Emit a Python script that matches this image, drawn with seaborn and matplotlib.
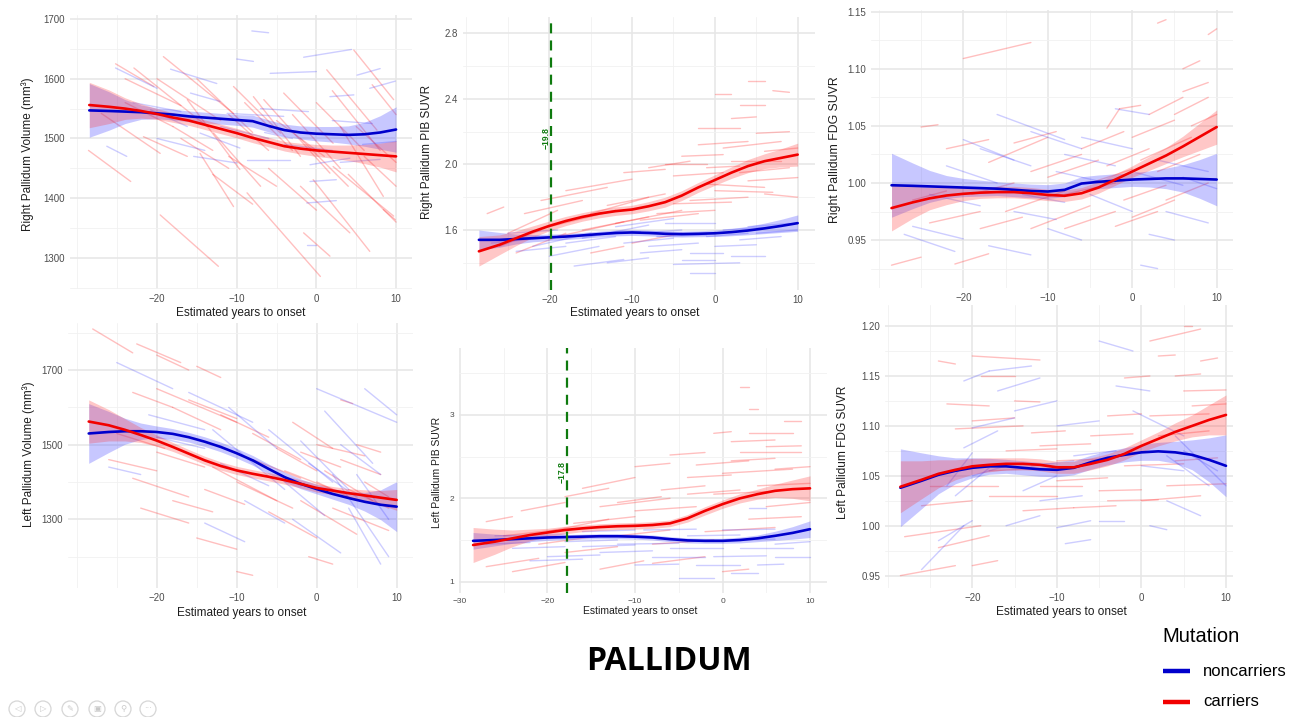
import numpy as np
import pandas as pd
import matplotlib
matplotlib.use("Agg")
import matplotlib.pyplot as plt
from matplotlib.lines import Line2D
from matplotlib.patches import Ellipse
import seaborn as sns

# ---------------------------------------------------------------------------
# Smoothed group trajectories (mean and half-width of the confidence band)
# ---------------------------------------------------------------------------
years = [-28.5, -26, -24, -22, -20, -18, -16, -14, -12, -10,
         -8, -6, -4, -2, 0, 2, 4, 6, 8, 10]

# Right pallidum volume
rv_nc_mean = [1547, 1546, 1545, 1544, 1542, 1540, 1537, 1535, 1533, 1531,
              1529, 1521, 1514, 1510, 1508, 1507, 1506, 1507, 1510, 1515]
rv_nc_ci = [45, 32, 20, 12, 9, 9, 9, 9, 9, 9, 10, 10, 10, 11, 12, 13, 15, 20, 28, 38]
rv_car_mean = [1556, 1553, 1550, 1546, 1541, 1535, 1530, 1523, 1516, 1509,
               1501, 1494, 1487, 1483, 1480, 1478, 1476, 1474, 1472, 1470]
rv_car_ci = [38, 28, 18, 12, 9, 8, 8, 8, 8, 8, 8, 8, 8, 9, 10, 11, 13, 16, 20, 26]

# Right pallidum PIB SUVR
rp_nc_mean = [1.54, 1.54, 1.545, 1.55, 1.555, 1.56, 1.567, 1.575, 1.582, 1.585,
              1.582, 1.577, 1.575, 1.577, 1.58, 1.587, 1.597, 1.61, 1.625, 1.642]
rp_nc_ci = [0.06, 0.045, 0.03, 0.022, 0.02, 0.018, 0.018, 0.018, 0.018, 0.018,
            0.018, 0.018, 0.018, 0.018, 0.02, 0.022, 0.026, 0.032, 0.04, 0.05]
rp_car_mean = [1.47, 1.51, 1.55, 1.59, 1.625, 1.655, 1.68, 1.70, 1.715, 1.725,
               1.745, 1.77, 1.81, 1.86, 1.905, 1.95, 1.99, 2.02, 2.04, 2.06]
rp_car_ci = [0.09, 0.06, 0.045, 0.035, 0.03, 0.028, 0.026, 0.026, 0.026, 0.026,
             0.028, 0.03, 0.03, 0.03, 0.032, 0.035, 0.04, 0.045, 0.055, 0.07]

# Right pallidum FDG SUVR
rf_nc_mean = [0.998, 0.9975, 0.997, 0.9965, 0.996, 0.9955, 0.995, 0.994, 0.993, 0.9925,
              0.994, 0.9995, 1.001, 1.002, 1.003, 1.0035, 1.004, 1.004, 1.0035, 1.003]
rf_nc_ci = [0.028, 0.02, 0.014, 0.01, 0.008, 0.007, 0.006, 0.006, 0.006, 0.006,
            0.006, 0.006, 0.006, 0.006, 0.006, 0.007, 0.009, 0.012, 0.017, 0.023]
rf_car_mean = [0.978, 0.983, 0.9865, 0.989, 0.9905, 0.9915, 0.992, 0.992, 0.991, 0.9895,
               0.9888, 0.991, 0.996, 1.003, 1.010, 1.017, 1.024, 1.032, 1.0405, 1.049]
rf_car_ci = [0.02, 0.014, 0.01, 0.008, 0.006, 0.005, 0.005, 0.005, 0.005, 0.005,
             0.005, 0.005, 0.005, 0.005, 0.005, 0.006, 0.007, 0.009, 0.012, 0.015]

# Left pallidum volume
lv_nc_mean = [1530, 1534, 1536, 1536, 1534, 1529, 1520, 1508, 1494, 1477,
              1458, 1435, 1413, 1395, 1381, 1368, 1357, 1347, 1339, 1334]
lv_nc_ci = [80, 55, 35, 22, 16, 14, 13, 13, 13, 13, 13, 13, 13, 13, 13, 14, 17, 25, 40, 67]
lv_car_mean = [1562, 1552, 1540, 1526, 1511, 1494, 1476, 1458, 1443, 1431,
               1422, 1414, 1405, 1395, 1384, 1377, 1370, 1364, 1358, 1352]
lv_car_ci = [58, 42, 30, 20, 15, 12, 11, 11, 11, 11, 11, 11, 11, 11, 11, 11, 12, 15, 19, 28]

# Left pallidum PIB SUVR
lp_nc_mean = [1.49, 1.50, 1.51, 1.52, 1.53, 1.535, 1.54, 1.545, 1.545, 1.54,
              1.53, 1.51, 1.495, 1.49, 1.49, 1.50, 1.52, 1.55, 1.585, 1.63]
lp_nc_ci = [0.10, 0.07, 0.05, 0.04, 0.035, 0.03, 0.03, 0.03, 0.03, 0.03,
            0.03, 0.03, 0.03, 0.03, 0.03, 0.035, 0.04, 0.055, 0.075, 0.10]
lp_car_mean = [1.44, 1.48, 1.52, 1.56, 1.59, 1.62, 1.64, 1.655, 1.665, 1.67,
               1.68, 1.70, 1.76, 1.85, 1.93, 2.00, 2.05, 2.09, 2.11, 2.12]
lp_car_ci = [0.21, 0.15, 0.10, 0.07, 0.05, 0.045, 0.04, 0.04, 0.04, 0.04,
             0.04, 0.04, 0.045, 0.05, 0.05, 0.055, 0.06, 0.08, 0.11, 0.15]

# Left pallidum FDG SUVR
lf_nc_mean = [1.038, 1.045, 1.051, 1.055, 1.058, 1.0595, 1.0595, 1.058, 1.0565, 1.056,
              1.058, 1.0635, 1.068, 1.071, 1.0735, 1.0745, 1.0735, 1.071, 1.066, 1.060]
lf_nc_ci = [0.039, 0.028, 0.019, 0.013, 0.01, 0.008, 0.007, 0.007, 0.007, 0.007,
            0.007, 0.007, 0.007, 0.007, 0.008, 0.009, 0.011, 0.015, 0.022, 0.031]
lf_car_mean = [1.039, 1.046, 1.052, 1.056, 1.0595, 1.061, 1.062, 1.062, 1.061, 1.0585,
               1.0585, 1.062, 1.066, 1.072, 1.080, 1.087, 1.094, 1.100, 1.106, 1.111]
lf_car_ci = [0.026, 0.019, 0.014, 0.01, 0.008, 0.007, 0.006, 0.006, 0.006, 0.006,
             0.006, 0.006, 0.006, 0.006, 0.006, 0.007, 0.009, 0.011, 0.015, 0.02]

# ---------------------------------------------------------------------------
# Individual participant trajectories: (x_start, y_start, x_end, y_end)
# ---------------------------------------------------------------------------
rv_car_segs = [(-25.2, 1625, -20.4, 1587), (-28.6, 1480, -23.3, 1428), (-19.6, 1372, -12.3, 1286),
               (-19.2, 1637, -10.4, 1542), (-22.9, 1618, -13.7, 1520), (-8.7, 1409, 0.5, 1269),
               (-0.4, 1431, 6.7, 1311), (4.7, 1648, 9.7, 1565), (-4.1, 1576, 2.1, 1492),
               (-6.6, 1565, 1.7, 1442), (1.3, 1615, 7.6, 1514), (2.1, 1453, 9.7, 1370),
               (-16.2, 1565, -9.6, 1448), (-12.9, 1509, -7.0, 1420), (-21.7, 1503, -16.2, 1470),
               (-2.0, 1420, 4.2, 1342), (-10.4, 1587, -4.5, 1509), (-1.6, 1342, 1.7, 1303),
               (-7.9, 1570, -2.0, 1470), (-27.0, 1542, -19.6, 1475), (3.0, 1520, 8.4, 1403),
               (-14.6, 1475, -10.4, 1386), (-24.0, 1600, -17.0, 1555), (-5.0, 1530, 1.0, 1470),
               (6.0, 1470, 10.0, 1420), (-11.0, 1540, -6.0, 1480), (7.0, 1590, 10.0, 1540),
               (-18.0, 1520, -13.0, 1480), (8.4, 1381, 9.9, 1364), (-20.0, 1600, -12.0, 1530),
               (-15.0, 1600, -8.0, 1510), (-9.0, 1560, -3.0, 1480), (-3.0, 1540, 3.0, 1450),
               (0.0, 1560, 6.0, 1480), (2.0, 1580, 8.0, 1480), (-6.0, 1450, 0.0, 1380),
               (4.0, 1440, 10.0, 1360), (-13.0, 1440, -8.0, 1390), (-24.0, 1560, -18.0, 1520),
               (-17.0, 1500, -11.0, 1450), (5.0, 1520, 10.0, 1460), (-2.0, 1500, 4.0, 1420),
               (-11.0, 1470, -5.0, 1420)]
rv_nc_segs = [(-25.2, 1618, -20.0, 1584), (-8.1, 1680, -6.0, 1677), (-1.6, 1636, 4.4, 1649),
              (5.1, 1606, 8.0, 1617), (6.7, 1584, 9.9, 1596), (-5.8, 1609, 0.0, 1612),
              (-10.0, 1633, -7.9, 1629), (-18.3, 1616, -12.5, 1592), (-15.8, 1576, -12.1, 1562),
              (-26.3, 1487, -23.8, 1470), (-14.6, 1509, -9.6, 1484), (-8.7, 1464, -3.3, 1464),
              (-0.8, 1456, 4.2, 1467), (-0.8, 1428, 2.5, 1431), (-1.2, 1392, 2.5, 1396),
              (-1.2, 1321, 0.0, 1321), (1.7, 1570, 4.7, 1573), (-11.2, 1542, -4.1, 1537),
              (-20.8, 1548, -16.2, 1520), (-15.4, 1470, -10.0, 1459), (5.8, 1490, 10.0, 1495),
              (-6.5, 1510, -3.0, 1500), (-23.0, 1560, -17.0, 1545), (-12.0, 1520, -6.0, 1500),
              (-4.0, 1490, 2.0, 1480), (3.0, 1460, 8.0, 1465), (-20.0, 1500, -14.0, 1480),
              (-7.0, 1550, -1.0, 1545), (2.0, 1530, 7.0, 1525)]

rp_car_segs = [(-27.5, 1.70, -25.5, 1.74), (-25, 1.58, -19, 1.72), (-23, 1.70, -16, 1.78),
               (-21, 1.78, -13, 1.86), (-18, 1.84, -10, 1.91), (-15, 1.70, -8, 1.80),
               (-19, 1.56, -11, 1.65), (-24, 1.46, -18, 1.58), (-12, 1.64, -4, 1.72),
               (-8, 1.98, -3, 2.02), (-4, 2.05, 1, 2.06), (-2, 2.22, 3, 2.22),
               (0, 2.43, 2, 2.43), (4, 2.51, 6, 2.51), (7, 2.45, 9, 2.44),
               (3, 2.36, 6, 2.36), (-5, 1.93, 1, 1.95), (-3, 1.78, 4, 1.80),
               (1, 2.10, 8, 2.14), (-1, 1.88, 6, 1.86), (2, 2.28, 5, 2.29),
               (5, 2.19, 9, 2.20), (-10, 1.52, -4, 1.58), (-7, 1.70, 0, 1.72),
               (3, 1.95, 9, 1.98), (-15, 1.46, -11, 1.50), (-6, 2.00, -1, 2.00),
               (6, 1.82, 10, 1.80), (-20, 1.62, -12, 1.72), (-16, 1.60, -8, 1.68),
               (-13, 1.75, -6, 1.82), (-9, 1.66, -2, 1.70), (-5, 1.76, 2, 1.77),
               (0, 1.84, 7, 1.83), (2, 2.02, 8, 2.02), (4, 1.90, 10, 1.92),
               (-2, 2.12, 4, 2.14), (-26, 1.50, -21, 1.60), (-11, 1.95, -6, 1.97),
               (6, 2.08, 10, 2.10), (-1, 1.98, 3, 1.99)]
rp_nc_segs = [(-27, 1.52, -21, 1.55), (-24, 1.47, -18, 1.50), (-20, 1.44, -14, 1.50),
              (-17, 1.38, -11, 1.42), (-13, 1.40, -8, 1.43), (-10, 1.58, -4, 1.60),
              (-6, 1.64, 0, 1.64), (-3, 1.46, 1, 1.46), (-4, 1.42, 0, 1.42),
              (-3, 1.34, 0, 1.34), (-5, 1.39, 3, 1.40), (2, 1.44, 6, 1.44),
              (0, 1.50, 5, 1.51), (1, 1.60, 7, 1.62), (-12, 1.62, -5, 1.67),
              (-16, 1.55, -8, 1.63), (-22, 1.50, -15, 1.58), (4, 1.62, 9, 1.64),
              (-8, 1.50, -2, 1.52), (-14, 1.57, -9, 1.59), (-25, 1.58, -19, 1.60),
              (-18, 1.52, -12, 1.56), (-11, 1.52, -5, 1.55), (-7, 1.56, -1, 1.57),
              (-1, 1.56, 4, 1.58), (3, 1.54, 8, 1.56), (-9, 1.46, -4, 1.48),
              (5, 1.58, 10, 1.60)]

rf_car_segs = [(-28.5, 0.928, -25, 0.935), (-25, 1.049, -23, 1.051), (-20, 1.109, -12, 1.123),
               (-21, 0.929, -17, 0.938), (-24, 0.965, -18, 0.975), (-26, 0.985, -22, 0.993),
               (-22, 1.030, -17, 1.038), (-17, 1.018, -10, 1.040), (-15, 0.975, -8, 0.993),
               (-12, 0.960, -5, 0.980), (-8, 0.960, -2, 0.975), (-5, 1.000, 0, 1.012),
               (-3, 1.048, -1.5, 1.065), (-1.5, 1.065, 1, 1.068), (-1, 0.985, 4, 0.998),
               (0, 1.040, 5, 1.055), (2, 1.060, 6, 1.075), (3, 1.140, 4, 1.143),
               (6, 1.100, 8, 1.107), (6, 1.080, 9, 1.088), (9, 1.130, 10, 1.135),
               (1, 1.020, 7, 1.040), (-2, 0.962, 3, 0.975), (4, 0.985, 9, 1.000),
               (-10, 1.005, -4, 1.020), (-19, 0.990, -14, 1.000), (7, 1.050, 10, 1.060),
               (-6, 1.030, -1, 1.045), (-14, 1.035, -9, 1.045), (-12, 1.010, -6, 1.025),
               (-8, 0.990, -2, 1.000), (0, 0.970, 5, 0.985), (3, 1.010, 8, 1.025),
               (-3, 1.015, 2, 1.030), (5, 1.060, 9, 1.075), (-18, 0.960, -13, 0.970)]
rf_nc_segs = [(-27, 0.955, -21, 0.940), (-26, 0.962, -20, 0.951), (-20, 1.038, -14, 1.020),
              (-18, 1.030, -12, 1.015), (-16, 1.060, -8, 1.038), (-12, 1.045, -6, 1.030),
              (-22, 1.015, -16, 1.000), (-17, 0.945, -12, 0.937), (-10, 0.960, -6, 0.950),
              (-6, 1.040, 0, 1.030), (-2, 1.065, 2, 1.060), (0, 1.010, 6, 0.998),
              (2, 0.955, 5, 0.950), (1, 0.928, 3, 0.925), (-5, 0.990, 0, 0.975),
              (-14, 0.975, -9, 0.968), (3, 1.020, 9, 1.010), (6, 1.005, 10, 0.995),
              (-9, 1.010, -3, 1.000), (-24, 0.990, -18, 0.980), (-8, 1.025, -2, 1.015),
              (4, 0.975, 9, 0.965), (-13, 0.990, -8, 0.983)]

lv_car_segs = [(-28, 1810, -23, 1746), (-22.5, 1770, -17, 1720), (-20, 1740, -16, 1700),
               (-15, 1710, -12, 1680), (-23, 1640, -18, 1600), (-20, 1650, -10, 1560),
               (-26, 1460, -20, 1430), (-23, 1410, -16, 1360), (-22, 1330, -16, 1290),
               (-18, 1350, -13, 1320), (-15, 1250, -10, 1220), (-10, 1160, -8, 1150),
               (-13, 1440, -5, 1350), (-8, 1530, -2, 1460), (-3, 1560, 2, 1490),
               (-5, 1490, 0, 1430), (0, 1500, 6, 1470), (1, 1430, 7, 1350),
               (-2, 1350, 5, 1260), (3, 1620, 4.5, 1610), (5, 1500, 8, 1480),
               (6, 1400, 9, 1360), (-10, 1400, -3, 1330), (-6, 1320, 0, 1250),
               (-18, 1600, -12, 1540), (2, 1330, 9, 1270), (-1, 1200, 2, 1180),
               (-16, 1620, -10, 1570), (-12, 1580, -6, 1520), (-8, 1460, -2, 1410),
               (-4, 1430, 2, 1380), (0, 1400, 5, 1350), (3, 1460, 8, 1420),
               (-20, 1480, -14, 1440), (-25, 1530, -19, 1490), (4, 1380, 9, 1330),
               (-14, 1380, -9, 1340), (-2, 1480, 3, 1440)]
lv_nc_segs = [(-25, 1720, -18, 1650), (-21, 1580, -14, 1540), (-16, 1640, -8, 1560),
              (-13, 1540, -4, 1380), (-11, 1600, -5, 1490), (-6, 1540, 2, 1400),
              (-2, 1510, 4, 1380), (0, 1650, 10, 1560), (1, 1590, 7, 1450),
              (6, 1650, 10, 1580), (-9, 1350, -4, 1290), (-4, 1400, 1, 1310),
              (2, 1420, 9, 1200), (-26, 1440, -22, 1420), (-14, 1290, -9, 1240),
              (-3, 1300, 3, 1210), (4, 1330, 8, 1180), (-12, 1450, -6, 1390),
              (5, 1420, 9, 1300), (-20, 1520, -14, 1490), (-8, 1460, -2, 1390),
              (-1, 1450, 5, 1360), (3, 1500, 8, 1420)]

lp_car_segs = [(-27, 1.72, -24, 1.78), (-23, 1.85, -18, 1.95), (-20, 1.60, -13, 1.75),
               (-16, 2.12, -10, 2.25), (-18, 2.02, -13, 2.12), (-14, 1.90, -6, 2.00),
               (-10, 2.38, -6, 2.42), (-6, 2.52, -2, 2.55), (-1, 2.78, 1, 2.80),
               (2, 3.33, 3, 3.33), (3, 3.07, 4, 3.07), (7, 2.93, 9, 2.93),
               (3, 2.78, 8, 2.78), (1, 2.68, 6, 2.70), (-3, 2.40, 3, 2.45),
               (2, 2.55, 9, 2.55), (0, 2.30, 8, 2.35), (4, 2.15, 10, 2.18),
               (-4, 2.05, 2, 2.10), (-27, 1.18, -21, 1.28), (-24, 1.12, -18, 1.23),
               (-14, 1.15, -9, 1.25), (-8, 1.22, -2, 1.30), (0, 1.12, 3, 1.15),
               (-2, 1.60, 6, 1.65), (-12, 1.55, -6, 1.62), (5, 1.90, 10, 1.95),
               (-21, 1.45, -14, 1.55), (-10, 1.85, -3, 1.90), (-25, 1.55, -19, 1.62),
               (-17, 1.70, -10, 1.78), (-12, 1.95, -7, 2.02), (-7, 2.10, -2, 2.15),
               (-4, 2.25, 1, 2.28), (1, 2.45, 6, 2.48), (5, 2.62, 9, 2.63),
               (-1, 2.05, 5, 2.08), (-8, 1.45, -1, 1.50), (3, 1.75, 9, 1.78),
               (-18, 1.35, -12, 1.42), (6, 2.35, 10, 2.38)]
lp_nc_segs = [(-26, 1.55, -18, 1.57), (-24, 1.40, -18, 1.42), (-20, 1.30, -14, 1.32),
              (-22, 1.25, -16, 1.27), (-14, 1.35, -8, 1.37), (-12, 1.45, -5, 1.46),
              (-8, 1.30, -2, 1.30), (-5, 1.05, -1, 1.05), (-3, 1.20, 2, 1.20),
              (1, 1.10, 4, 1.10), (-1, 1.30, 5, 1.31), (2, 1.40, 8, 1.40),
              (-4, 1.55, 2, 1.56), (3, 1.88, 5, 1.88), (6, 1.45, 10, 1.48),
              (-16, 1.60, -10, 1.62), (-9, 1.62, -3, 1.63), (0, 1.62, 6, 1.63),
              (-18, 1.48, -12, 1.50), (4, 1.20, 7, 1.21), (-27, 1.45, -22, 1.47),
              (-16, 1.42, -10, 1.44), (-6, 1.40, 0, 1.40), (1, 1.50, 6, 1.51),
              (6, 1.30, 10, 1.30), (-10, 1.20, -5, 1.21)]

lf_car_segs = [(-24, 1.165, -22, 1.162), (-20, 1.170, -12, 1.166), (-23, 1.122, -18, 1.120),
               (-19, 1.150, -15, 1.150), (-15, 1.125, -12, 1.124), (-22, 1.097, -14, 1.100),
               (-13, 1.093, -9, 1.095), (-12, 1.080, -6, 1.082), (-28, 0.989, -19, 1.000),
               (-24, 0.978, -18, 0.990), (-20, 0.960, -17, 0.965), (-25, 1.040, -17, 1.040),
               (-18, 1.030, -10, 1.030), (-14, 1.015, -8, 1.018), (-28.5, 0.950, -22, 0.960),
               (-8, 1.018, -3, 1.020), (-5, 1.035, 0, 1.036), (0, 1.025, 7, 1.030),
               (3, 1.040, 10, 1.042), (1, 1.110, 8, 1.112), (4, 1.150, 7, 1.152),
               (1, 1.185, 7, 1.197), (5, 1.200, 6, 1.200), (2, 1.170, 4, 1.171),
               (7, 1.165, 9, 1.168), (-2, 1.148, 1, 1.150), (-4, 1.110, 0, 1.112),
               (5, 1.135, 10, 1.136), (-2, 1.060, 5, 1.062), (-10, 1.045, -4, 1.048),
               (-20, 1.105, -15, 1.108), (-18, 1.055, -12, 1.057), (-10, 1.065, -4, 1.067),
               (-6, 1.090, -1, 1.092), (2, 1.090, 8, 1.095), (4, 1.065, 9, 1.068),
               (-16, 1.075, -10, 1.077), (-4, 1.025, 2, 1.026), (6, 1.120, 10, 1.122),
               (-26, 1.020, -20, 1.025), (-12, 1.040, -7, 1.040)]
lf_nc_segs = [(-26, 0.956, -21, 1.000), (-24, 0.985, -20, 1.005), (-22, 1.030, -18, 1.058),
              (-23, 1.040, -20, 1.073), (-21, 1.078, -17, 1.095), (-20, 1.098, -15, 1.108),
              (-21, 1.145, -18, 1.155), (-18, 1.155, -13, 1.160), (-17, 1.135, -12, 1.148),
              (-15, 1.115, -10, 1.125), (-10, 1.100, -5, 1.105), (-5, 1.185, -1, 1.175),
              (-3, 1.140, 1, 1.135), (-1, 1.115, 5, 1.090), (4, 1.090, 10, 1.040),
              (3, 1.070, 8, 1.040), (-14, 1.035, -10, 1.050), (-12, 1.025, -7, 1.030),
              (-9, 0.982, -6, 0.986), (-16, 1.000, -12, 1.010), (-5, 1.005, -2, 1.005),
              (1, 1.000, 3, 0.996), (-10, 0.998, -6, 1.005), (3, 1.025, 7, 1.010),
              (-8, 1.070, -3, 1.075), (-20, 1.050, -16, 1.060), (0, 1.060, 5, 1.055),
              (5, 1.075, 9, 1.055), (-13, 1.060, -8, 1.065)]

# Amyloid divergence points
rp_split = -19.8
lp_split = -17.8

group_labels = ["noncarriers", "carriers"]
legend_title = "Mutation"
x_title = "Estimated years to onset"
page_title = "PALLIDUM"

# ---------------------------------------------------------------------------
# Styling
# ---------------------------------------------------------------------------
sns.set_theme(style="white")
plt.rcParams["font.family"] = ["Liberation Sans", "DejaVu Sans"]

NC_LINE, CAR_LINE = "#0000CC", "#F20000"
NC_FILL, CAR_FILL = "#3333FF", "#FF3030"
SPLIT_COL = "#0E7A0E"
TICK_COL = "#4D4D4D"
TITLE_COL = "#1E1E1E"

W, H = 1298, 717
fig = plt.figure(figsize=(W / 100, H / 100), dpi=100)
fig.patch.set_facecolor("white")


def px_box(left, top, right, bottom):
    return [left / W, 1 - bottom / H, (right - left) / W, (bottom - top) / H]


def segs_frame(segs):
    rows = []
    for i, (x0, y0, x1, y1) in enumerate(segs):
        rows.append((i, x0, y0))
        rows.append((i, x1, y1))
    return pd.DataFrame(rows, columns=["seg", "x", "y"])


panels = [
    dict(box=(70, 15, 412, 289), xlim=(-30.92, 12.0), ylim=(1248, 1706.7),
         ymaj=[1300, 1400, 1500, 1600, 1700], yfmt="{:.0f}",
         ymin=[1250, 1350, 1450, 1550, 1650],
         xmaj=[-20, -10, 0, 10], xmin=[-30, -25, -15, -5, 5],
         ylabel="Right Pallidum Volume (mm³)", ylab_px=(28, 154), xlab_px=(241, 313),
         nc=(rv_nc_mean, rv_nc_ci, rv_nc_segs), car=(rv_car_mean, rv_car_ci, rv_car_segs),
         tick_fs=7, title_fs=8.5),
    dict(box=(463, 17, 815, 290), xlim=(-30.42, 12.09), ylim=(1.234, 2.8995),
         ymaj=[1.6, 2.0, 2.4, 2.8], yfmt="{:.1f}", ymin=[1.4, 1.8, 2.2, 2.6],
         xmaj=[-20, -10, 0, 10], xmin=[-30, -25, -15, -5, 5],
         ylabel="Right Pallidum PIB SUVR", ylab_px=(427, 152), xlab_px=(635, 313),
         nc=(rp_nc_mean, rp_nc_ci, rp_nc_segs), car=(rp_car_mean, rp_car_ci, rp_car_segs),
         split=(rp_split, 2.161, 0.6), tick_fs=7, title_fs=8.5),
    dict(box=(871, 10, 1233, 288), xlim=(-30.93, 11.93), ylim=(0.908, 1.1515),
         ymaj=[0.95, 1.00, 1.05, 1.10, 1.15], yfmt="{:.2f}",
         ymin=[0.925, 0.975, 1.025, 1.075, 1.125],
         xmaj=[-20, -10, 0, 10], xmin=[-30, -25, -15, -5, 5],
         ylabel="Right Pallidum FDG SUVR", ylab_px=(835, 150), xlab_px=None,
         nc=(rf_nc_mean, rf_nc_ci, rf_nc_segs), car=(rf_car_mean, rf_car_ci, rf_car_segs),
         tick_fs=7, title_fs=8.8),
    dict(box=(68, 323, 413, 588), xlim=(-31.09, 12.04), ylim=(1116, 1826),
         ymaj=[1300, 1500, 1700], yfmt="{:.0f}", ymin=[1200, 1400, 1600, 1800],
         xmaj=[-20, -10, 0, 10], xmin=[-30, -25, -15, -5, 5],
         ylabel="Left Pallidum Volume (mm³)", ylab_px=(29, 454), xlab_px=(242, 613),
         nc=(lv_nc_mean, lv_nc_ci, lv_nc_segs), car=(lv_car_mean, lv_car_ci, lv_car_segs),
         tick_fs=7, title_fs=8.5),
    dict(box=(459, 348, 827, 593), xlim=(-30.11, 11.94), ylim=(0.864, 3.804),
         ymaj=[1, 2, 3], yfmt="{:.0f}", ymin=[1.5, 2.5, 3.5],
         xmaj=[-30, -20, -10, 0, 10], xmin=[-25, -15, -5, 5],
         ylabel="Left Pallidum PIB SUVR", ylab_px=(437, 472), xlab_px=(640, 611),
         nc=(lp_nc_mean, lp_nc_ci, lp_nc_segs), car=(lp_car_mean, lp_car_ci, lp_car_segs),
         split=(lp_split, 2.32, 0.5), tick_fs=6, title_fs=7.5),
    dict(box=(885, 305, 1233, 588), xlim=(-30.32, 10.83), ylim=(0.9376, 1.2211),
         ymaj=[0.95, 1.00, 1.05, 1.10, 1.15, 1.20], yfmt="{:.2f}",
         ymin=[0.975, 1.025, 1.075, 1.125, 1.175],
         xmaj=[-20, -10, 0, 10], xmin=[-30, -25, -15, -5, 5],
         ylabel="Left Pallidum FDG SUVR", ylab_px=(843, 452), xlab_px=(1061, 612),
         nc=(lf_nc_mean, lf_nc_ci, lf_nc_segs), car=(lf_car_mean, lf_car_ci, lf_car_segs),
         tick_fs=7, title_fs=8.6),
]


def fmt_x(v):
    return f"{v:d}".replace("-", "\u2212")


for p in panels:
    l, t, r, b = p["box"]
    ax = fig.add_axes(px_box(l, t, r, b))
    ax.set_facecolor("white")
    for s in ax.spines.values():
        s.set_visible(False)

    # individual trajectories
    for (mean, ci, segs), col, alpha in ((p["car"], "#FF2E2E", 0.30), (p["nc"], "#3030FF", 0.24)):
        sns.lineplot(data=segs_frame(segs), x="x", y="y", units="seg", estimator=None,
                     color=col, alpha=alpha, linewidth=1.0, ax=ax, legend=False)

    # confidence bands and smoothed means
    xs = np.array(years)
    for (mean, ci, segs), fill in ((p["nc"], NC_FILL), (p["car"], CAR_FILL)):
        m, c = np.array(mean), np.array(ci)
        ax.fill_between(xs, m - c, m + c, color=fill, alpha=0.27, linewidth=0, zorder=3)
    for (mean, ci, segs), col in ((p["nc"], NC_LINE), (p["car"], CAR_LINE)):
        sns.lineplot(x=xs, y=np.array(mean), color=col, linewidth=1.9, ax=ax, zorder=4)

    if "split" in p:
        xv, ytxt, dx = p["split"]
        ax.axvline(xv, color=SPLIT_COL, linewidth=1.6, dashes=(4.5, 3.2), zorder=5)
        ax.text(xv - dx, ytxt, f"\u2212{abs(xv):.1f}", rotation=90, ha="center", va="center",
                color=SPLIT_COL, fontsize=6.2, fontweight="bold", zorder=6)

    ax.set_xlim(*p["xlim"])
    ax.set_ylim(*p["ylim"])
    ax.set_xticks(p["xmaj"])
    ax.set_xticklabels([fmt_x(v) for v in p["xmaj"]])
    ax.set_yticks(p["ymaj"])
    ax.set_yticklabels([p["yfmt"].format(v) for v in p["ymaj"]])
    ax.set_xticks(p["xmin"], minor=True)
    ax.set_yticks(p["ymin"], minor=True)
    ax.grid(which="major", color="#E6E6E6", linewidth=1.1, zorder=0)
    ax.grid(which="minor", color="#F1F1F1", linewidth=0.6, zorder=0)
    ax.set_axisbelow(True)
    ax.tick_params(which="both", length=0, labelsize=p["tick_fs"], colors=TICK_COL, pad=3.5)

    ax.set_ylabel(p["ylabel"], fontsize=p["title_fs"], color=TITLE_COL, va="center")
    ax.yaxis.set_label_coords((p["ylab_px"][0] - l) / (r - l), (b - p["ylab_px"][1]) / (b - t))
    if p["xlab_px"] is not None:
        ax.set_xlabel(x_title, fontsize=p["title_fs"], color=TITLE_COL, va="center")
        ax.xaxis.set_label_coords((p["xlab_px"][0] - l) / (r - l), (b - p["xlab_px"][1]) / (b - t))
    else:
        ax.set_xlabel("")

# page heading
fig.text(669 / W, 1 - 662 / H, page_title, ha="center", va="center",
         fontsize=23, fontweight="bold", family=["Open Sans", "DejaVu Sans"], color="#000000")

# legend for the mutation groups
fig.text(1162 / W, 1 - 636 / H, legend_title, ha="left", va="center",
         fontsize=14.5, color="#000000")
for label, col, ypx in zip(group_labels, (NC_LINE, CAR_LINE), (671, 702)):
    fig.add_artist(Line2D([1163 / W, 1190 / W], [1 - ypx / H, 1 - ypx / H],
                          transform=fig.transFigure, color=col, linewidth=3.2,
                          solid_capstyle="butt"))
    fig.text(1203 / W, 1 - ypx / H, label, ha="left", va="center",
             fontsize=12, color="#000000")

# slide navigation controls
icon_glyphs = ["\u25C1", "\u25B7", "\u270E", "\u25A3", "\u26B2", "\u00B7\u00B7\u00B7"]
icon_x = [17, 43, 70, 97, 123, 148]
for gx, g in zip(icon_x, icon_glyphs):
    fig.add_artist(Ellipse((gx / W, 1 - 709 / H), 16 / W, 16 / H, transform=fig.transFigure,
                           fill=False, edgecolor="#D6D6D6", linewidth=0.9))
    fig.text(gx / W, 1 - 709 / H, g, ha="center", va="center", fontsize=6,
             color="#C8C8C8", family=["DejaVu Sans"])

fig.savefig("out.png", dpi=100, facecolor="white")
